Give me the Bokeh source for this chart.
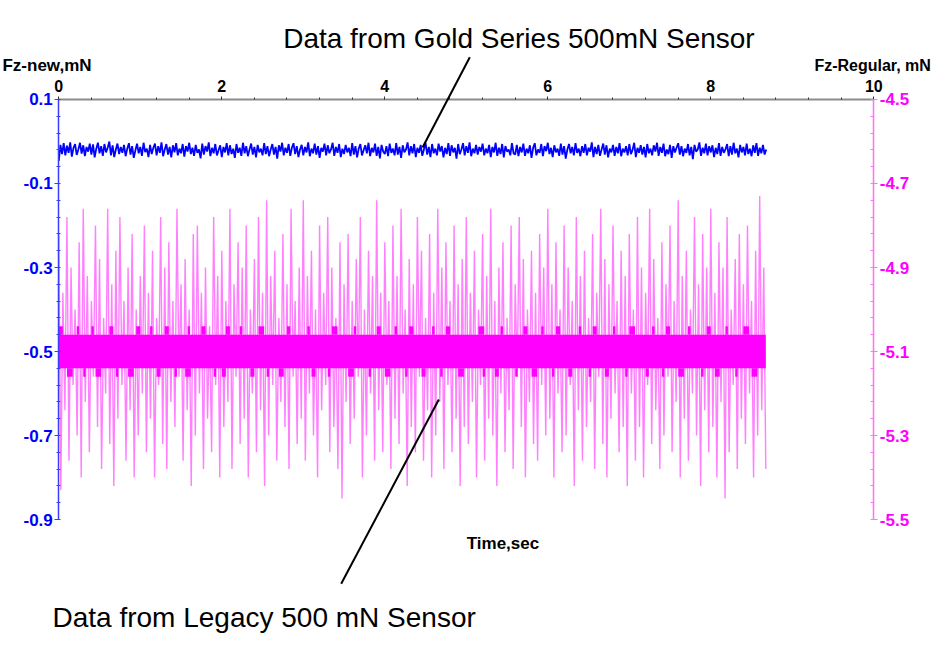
import numpy as np
from bokeh.plotting import figure
from bokeh.models import (Range1d, LinearAxis, FixedTicker, SingleIntervalTicker,
                          PrintfTickFormatter, Label, Arrow)
from bokeh.embed import file_html
from bokeh.resources import INLINE

FONT = "Liberation Sans"

# ---------------- data ----------------
# Gold Series sensor (left axis), units of 0.001 mN, sampled every 0.02 s
blue_dt = 0.02
blue_milli = [
    -46,-8,-30,-4,-33,-10,-27,-2,-36,-15,-6,-32,-19,-3,-29,-9,-35,-13,-24,-5,
    -31,-7,-38,-17,-3,-28,-11,-34,-6,-26,-15,0,-33,-9,-37,-19,-5,-30,-13,-27,
    -8,-35,-17,-4,-31,-11,-39,-21,-5,-28,-13,-34,-3,-25,-17,-37,-8,-30,-15,-5,
    -33,-11,-27,-2,-35,-19,-6,-31,-13,-38,-9,-26,-4,-33,-17,-28,-6,-36,-11,-24,
    -3,-30,-15,-34,-8,-27,-19,-40,-5,-31,-11,-24,-2,-35,-15,-28,-6,-33,-21,-9,
    -37,-13,-26,-4,-33,-9,-30,-17,-39,-6,-27,-15,-34,-3,-28,-11,-35,-19,-5,-31,
    -13,-38,-8,-26,-17,-33,-4,-30,-11,-35,-19,-6,-31,-13,-41,-9,-24,-3,-33,-15,
    -27,-6,-34,-15,-4,-30,-11,-37,-19,-8,-33,-13,-26,-2,-35,-17,-28,-5,-31,-11,
    -39,-15,-24,-5,-33,-9,-28,-19,-3,-34,-13,-27,-6,-37,-17,-30,-8,-26,-15,-35,
    -4,-31,-11,-38,-17,-6,-33,-21,-9,-28,-3,-35,-15,-26,-5,-34,-13,-40,-8,-24,
    -30,-11,-35,-5,-27,-17,-33,-4,-31,-13,-39,-9,-26,-19,-2,-33,-11,-28,-6,-37,
    -15,-27,-8,-34,-19,-3,-31,-13,-37,-6,-28,-17,-33,-5,-24,-11,-38,-15,-30,-4,
    -34,-9,-26,-15,-41,-6,-30,-19,-4,-33,-11,-27,-2,-35,-17,-28,-8,-31,-13,-24,
    -5,-33,-17,-28,-8,-37,-13,-26,-3,-34,-15,-30,-6,-38,-11,-24,-19,-33,-4,-28,
    -31,-8,-35,-13,-26,-5,-34,-17,-28,-9,-39,-15,-4,-33,-19,-27,-6,-35,-11,-23,
    -3,-30,-15,-37,-9,-26,-17,-34,-5,-31,-11,-41,-19,-6,-28,-13,-33,-4,-27,-17,
    -35,-11,-27,-6,-33,-15,-24,-2,-37,-13,-30,-8,-34,-19,-5,-31,-9,-38,-17,-26,
    -8,-34,-13,-28,-4,-35,-17,-26,-11,-33,-6,-30,-20,-3,-37,-15,-27,-9,-31,-13,
    -38,-6,-28,-17,-33,-9,-24,-3,-34,-13,-27,-5,-35,-19,-30,-8,-39,-11,-26,-15,
    -4,-31,-11,-35,-17,-27,-6,-33,-13,-42,-8,-24,-19,-2,-34,-15,-28,-5,-33,-11,
    -26,-9,-37,-15,-30,-4,-34,-13,-27,-19,-6,-35,-11,-31,-3,-28,-17,-38,-8,-26,
    -13,-33,-5,-30,-17,-35,-9,-27,-4,-34,-15,-28,-8,-31,-19,
]

# Legacy sensor (right axis), units of 0.01 mN; alternating up/down excursions every 0.025 s
pink_dt = 0.05
pink_up_centi = [
    -482,-496,-478,-490,-500,-484,-476,-492,-498,-480,-488,-502,-476,-494,-486,-478,-498,-490,-482,-500,
    -492,-480,-496,-486,-502,-478,-490,-484,-498,-476,-494,-488,-500,-482,-480,-496,-490,-504,-478,-492,
    -486,-498,-476,-494,-484,-490,-480,-500,-488,-478,-496,-474,-492,-486,-502,-482,-494,-476,-498,-490,
    -474,-492,-486,-500,-480,-496,-478,-490,-502,-484,-494,-482,-498,-488,-478,-500,-486,-492,-474,-496,
    -484,-498,-480,-492,-476,-500,-488,-494,-478,-486,-502,-482,-496,-476,-490,-484,-498,-480,-494,-488,
    -478,-496,-486,-500,-482,-492,-476,-498,-490,-484,-502,-480,-494,-478,-488,-500,-486,-496,-482,-490,
    -476,-494,-484,-500,-480,-490,-498,-478,-492,-486,-502,-482,-496,-476,-488,-494,-480,-498,-486,-492,
    -482,-500,-478,-490,-496,-476,-488,-502,-484,-494,-480,-498,-474,-492,-486,-500,-478,-494,-482,-490,
    -476,-496,-484,-490,-478,-500,-488,-482,-494,-480,-498,-486,-473,-490,
]
pink_down_centi = [
    -543,-524,-536,-518,-530,-540,-522,-534,-516,-528,-538,-520,-532,-542,-526,-518,-536,-524,-540,-530,
    -520,-534,-526,-540,-518,-532,-538,-522,-528,-516,-536,-524,-542,-530,-520,-538,-526,-534,-518,-540,
    -528,-522,-538,-516,-532,-526,-540,-520,-534,-524,-542,-530,-518,-536,-522,-528,-538,-516,-532,-526,
    -536,-520,-530,-540,-524,-518,-534,-528,-538,-545,-522,-532,-526,-516,-540,-530,-520,-536,-524,-534,
    -518,-538,-526,-532,-520,-542,-528,-534,-516,-536,-524,-540,-530,-522,-538,-518,-534,-526,-542,-528,
    -532,-522,-540,-518,-536,-526,-530,-542,-520,-534,-524,-538,-516,-528,-540,-522,-532,-536,-518,-530,
    -526,-540,-520,-534,-530,-518,-542,-524,-536,-528,-522,-538,-516,-532,-540,-526,-520,-534,-528,-542,
    -520,-536,-528,-540,-518,-532,-524,-538,-530,-516,-534,-522,-540,-526,-536,-520,-530,-542,-524,-534,
    -528,-540,-522,-545,-534,-518,-538,-526,-532,-520,-540,-530,-524,-538,
]
# dense core of the legacy signal (mN)
core_top_level = -5.06
core_bottom_level = -5.14
bump_top_level = -5.04
bump_bottom_level = -5.16
bump_top_start = [0.00,0.22,0.40,0.62,0.95,1.12,1.30,1.58,1.75,2.05,2.22,2.45,2.80,3.05,3.35,3.62,3.90,4.12,4.30,4.58,4.75,5.15,5.42,5.70,5.92,6.10,6.38,6.55,6.80,7.00,7.28,7.45,7.72,7.95,8.18,8.40]
bump_top_end   = [0.05,0.25,0.43,0.67,1.00,1.15,1.35,1.61,1.80,2.10,2.25,2.52,2.84,3.08,3.42,3.65,3.95,4.15,4.35,4.61,4.80,5.22,5.45,5.75,5.95,6.15,6.41,6.60,6.83,7.07,7.31,7.50,7.75,8.00,8.21,8.47]
bump_bot_start = [0.10,0.30,0.45,0.70,0.85,1.20,1.42,1.55,1.90,2.00,2.35,2.55,2.70,3.10,3.30,3.55,3.80,4.00,4.25,4.45,4.68,4.90,5.20,5.35,5.60,5.80,6.05,6.25,6.50,6.70,6.95,7.20,7.40,7.60,7.88,8.05,8.30,8.50]
bump_bot_end   = [0.17,0.33,0.52,0.73,0.92,1.25,1.45,1.62,1.93,2.05,2.40,2.58,2.76,3.15,3.33,3.62,3.83,4.07,4.28,4.50,4.71,4.97,5.23,5.40,5.63,5.87,6.08,6.30,6.53,6.75,6.98,7.24,7.43,7.67,7.91,8.11,8.33,8.57]

x_ticks_interval = 2
left_ticks = [0.1, -0.1, -0.3, -0.5, -0.7, -0.9]
right_ticks = [-4.5, -4.7, -4.9, -5.1, -5.3, -5.5]
minor_step = 0.04

# ---------------- derived arrays ----------------
blue = np.array(blue_milli) / 1000.0
blue_t = np.arange(len(blue)) * blue_dt
pink_up = np.array(pink_up_centi) / 100.0
pink_down = np.array(pink_down_centi) / 100.0
up_t = np.arange(len(pink_up)) * pink_dt
down_t = np.arange(len(pink_down)) * pink_dt + pink_dt / 2
pink_t = np.column_stack([up_t, down_t]).ravel()
pink_v = np.column_stack([pink_up, pink_down]).ravel()
left_minor = list(np.round(np.arange(left_ticks[0], left_ticks[-1] - 1e-9, -minor_step), 3))
right_minor = list(np.round(np.arange(right_ticks[0], right_ticks[-1] - 1e-9, -minor_step), 3))

# ---------------- figure (frame fills the canvas, axes at fixed locations) ----------------
X_LO, X_HI = -0.7153, 10.7448
Y_LO, Y_HI = -1.1714, 0.3357
R_LO, R_HI = -5.7714, -4.2643
p = figure(width=934, height=633, output_backend="svg", toolbar_location=None,
           title=None, x_range=Range1d(X_LO, X_HI), y_range=Range1d(Y_LO, Y_HI),
           x_axis_location="above", min_border=0)
p.extra_y_ranges = {"right": Range1d(R_LO, R_HI)}
p.grid.visible = False
p.outline_line_color = None
p.background_fill_color = "white"
p.border_fill_color = "white"

PINK = "#ff00ff"
BLUE = "#0000ff"

# legacy sensor
p.line(pink_t, pink_v, y_range_name="right", line_color=PINK, line_alpha=0.5, line_width=1.4)
p.quad(left=[pink_t[0]], right=[pink_t[-1]], bottom=[core_bottom_level], top=[core_top_level],
       y_range_name="right", fill_color=PINK, line_color=None)
p.quad(left=bump_top_start, right=bump_top_end,
       bottom=[core_top_level] * len(bump_top_start), top=[bump_top_level] * len(bump_top_start),
       y_range_name="right", fill_color=PINK, line_color=None)
p.quad(left=bump_bot_start, right=bump_bot_end,
       bottom=[bump_bottom_level] * len(bump_bot_start), top=[core_bottom_level] * len(bump_bot_start),
       y_range_name="right", fill_color=PINK, line_color=None)

# gold series sensor
p.line(blue_t, blue, line_color=BLUE, line_width=1.8)

# ---------------- axes ----------------
xa = p.xaxis[0]
xa.fixed_location = left_ticks[0]
xa.bounds = (0, 10)
xa.ticker = SingleIntervalTicker(interval=x_ticks_interval, num_minor_ticks=5)
xa.axis_line_color = "#8c8c8c"
xa.axis_line_width = 2
xa.major_tick_line_color = "#333333"
xa.minor_tick_line_color = "#333333"
xa.major_tick_in = 0
xa.major_tick_out = 3
xa.minor_tick_in = 0
xa.minor_tick_out = 2
xa.major_label_standoff = 4
xa.major_label_text_font = FONT
xa.major_label_text_font_style = "bold"
xa.major_label_text_font_size = "16px"
xa.major_label_text_color = "black"

ya = p.yaxis[0]
ya.fixed_location = 0
ya.bounds = (left_ticks[-1], left_ticks[0])
ya.ticker = FixedTicker(ticks=left_ticks, minor_ticks=left_minor)
ya.formatter = PrintfTickFormatter(format="%.1f")
ya.axis_line_color = "#3c3cff"
ya.axis_line_width = 1.5
ya.major_tick_line_color = "#3c3cff"
ya.minor_tick_line_color = "#3c3cff"
ya.major_tick_in = 0
ya.major_tick_out = 4
ya.minor_tick_in = 2
ya.minor_tick_out = 2
ya.major_label_standoff = 2
ya.major_label_text_font = FONT
ya.major_label_text_font_style = "bold"
ya.major_label_text_font_size = "17px"
ya.major_label_text_color = BLUE

ra = LinearAxis(y_range_name="right", ticker=FixedTicker(ticks=right_ticks, minor_ticks=right_minor),
                formatter=PrintfTickFormatter(format="%.1f"))
ra.fixed_location = 10
ra.bounds = (right_ticks[-1], right_ticks[0])
ra.axis_line_color = "#ff70ff"
ra.axis_line_width = 1.5
ra.major_tick_line_color = "#ff70ff"
ra.minor_tick_line_color = "#ff70ff"
ra.major_tick_in = 0
ra.major_tick_out = 4
ra.minor_tick_in = 3
ra.minor_tick_out = 0
ra.major_label_standoff = 2
ra.major_label_text_font = FONT
ra.major_label_text_font_style = "bold"
ra.major_label_text_font_size = "17px"
ra.major_label_text_color = PINK
p.add_layout(ra, "right")

# ---------------- annotations ----------------
def lab(x, y, text, size, bold=False, align="left", baseline="alphabetic"):
    p.add_layout(Label(x=x, y=y, text=text, text_font=FONT, text_font_size=size,
                       text_font_style="bold" if bold else "normal", text_color="black",
                       text_align=align, text_baseline=baseline))

lab(2.753, 0.246, "Data from Gold Series 500mN Sensor", "28px")
lab(-0.077, -1.1333, "Data from Legacy 500 mN Sensor", "28px")
lab(5.45, -0.9583, "Time,sec", "17px", bold=True, align="center", baseline="middle")
lab(-0.691, 0.181, "Fz-new,mN", "17px", bold=True, baseline="middle")
lab(10.70, 0.181, "Fz-Regular, mN", "16px", bold=True, align="right", baseline="middle")

p.add_layout(Arrow(end=None, x_start=5.043, y_start=0.2007, x_end=4.463, y_end=-0.0143,
                   line_color="black", line_width=2))
p.add_layout(Arrow(end=None, x_start=4.663, y_start=-0.6143, x_end=3.465, y_end=-1.0531,
                   line_color="black", line_width=2))

open("out.html", "w").write(file_html(p, INLINE))
